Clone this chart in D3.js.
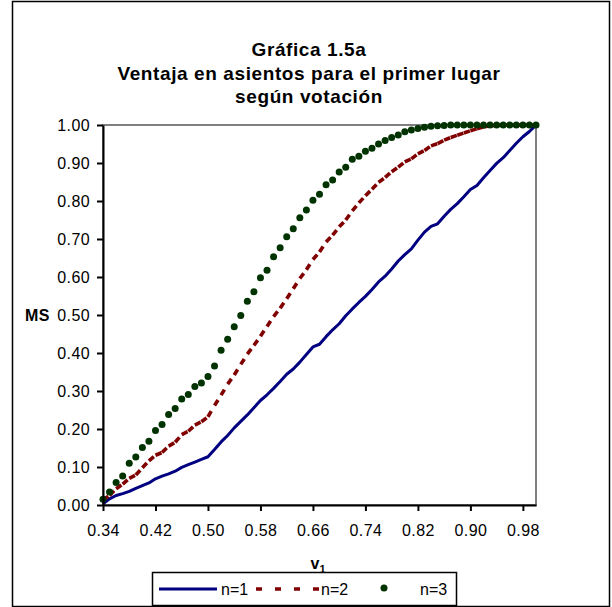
<!DOCTYPE html>
<html><head><meta charset="utf-8">
<script src="https://cdn.jsdelivr.net/npm/d3@7"></script>
<style>body{margin:0;background:#fff}svg{display:block;font-family:Arial,"Liberation Sans",sans-serif}</style>
</head><body>
<svg id="c" width="612" height="607"></svg>
<script>
const v1 = [0.34,0.35,0.36,0.37,0.38,0.39,0.40,0.41,0.42,0.43,0.44,0.45,0.46,0.47,0.48,0.49,0.50,0.51,0.52,0.53,0.54,0.55,0.56,0.57,0.58,0.59,0.60,0.61,0.62,0.63,0.64,0.65,0.66,0.67,0.68,0.69,0.70,0.71,0.72,0.73,0.74,0.75,0.76,0.77,0.78,0.79,0.80,0.81,0.82,0.83,0.84,0.85,0.86,0.87,0.88,0.89,0.90,0.91,0.92,0.93,0.94,0.95,0.96,0.97,0.98,0.99,1.00];
const n1 = [0.003,0.016,0.025,0.030,0.036,0.044,0.051,0.058,0.069,0.076,0.082,0.089,0.099,0.106,0.113,0.120,0.127,0.146,0.166,0.183,0.203,0.220,0.237,0.256,0.275,0.290,0.307,0.325,0.344,0.358,0.376,0.396,0.416,0.423,0.443,0.461,0.477,0.498,0.516,0.533,0.549,0.567,0.587,0.602,0.621,0.642,0.659,0.674,0.697,0.718,0.733,0.740,0.760,0.778,0.793,0.811,0.830,0.841,0.861,0.880,0.899,0.914,0.933,0.952,0.969,0.983,1.000];
const n2 = [0.013,0.025,0.043,0.055,0.070,0.079,0.098,0.116,0.131,0.138,0.155,0.165,0.185,0.194,0.210,0.219,0.232,0.262,0.289,0.318,0.342,0.370,0.397,0.420,0.444,0.470,0.496,0.518,0.543,0.569,0.596,0.619,0.646,0.666,0.692,0.710,0.732,0.750,0.774,0.795,0.814,0.831,0.849,0.862,0.877,0.889,0.903,0.911,0.924,0.933,0.945,0.951,0.960,0.967,0.973,0.979,0.985,0.990,0.995,0.998,0.999,1,1,1,1,1,1];
const n3 = [0.015,0.034,0.059,0.076,0.110,0.126,0.151,0.168,0.196,0.212,0.238,0.254,0.279,0.291,0.312,0.321,0.338,0.366,0.407,0.436,0.469,0.499,0.536,0.561,0.598,0.618,0.653,0.677,0.706,0.727,0.756,0.776,0.802,0.818,0.843,0.855,0.876,0.889,0.910,0.918,0.931,0.939,0.950,0.959,0.967,0.974,0.982,0.987,0.991,0.994,0.997,0.998,0.999,1,1,1,1,1,1,1,1,1,1,1,1,1,1];
const xTicks = [0.34,0.42,0.50,0.58,0.66,0.74,0.82,0.90,0.98];
const yTicks = [0,0.1,0.2,0.3,0.4,0.5,0.6,0.7,0.8,0.9,1.0];
const seriesNames = ["n=1","n=2","n=3"];
const titleLines = ["Gráfica 1.5a","Ventaja en asientos para el primer lugar","según votación"];
const yTitle = "MS";
const xTitle = "v";
const xTitleSub = "1";

const svg = d3.select("#c");
const x = d3.scaleLinear().domain([0.34,1.00]).range([103,536]);
const y = d3.scaleLinear().domain([0,1]).range([505,125]);
const blue="#000080", red="#800000", green="#003300";

// outer border
svg.append("rect").attr("x",12.5).attr("y",1.5).attr("width",597).attr("height",605)
  .attr("fill","#fff").attr("stroke","#000").attr("stroke-width",1.5);

// title
svg.append("g").selectAll("text").data(titleLines).join("text")
  .attr("x",309).attr("y",(d,i)=>56+i*23.5).attr("text-anchor","middle")
  .attr("font-size",19).attr("font-weight","bold").attr("letter-spacing",0.6).text(d=>d);

// plot area
svg.append("rect").attr("x",x(0.34)).attr("y",y(1)).attr("width",x(1)-x(0.34)).attr("height",y(0)-y(1))
  .attr("fill","#fff").attr("stroke","#808080").attr("stroke-width",2);

const pts = s => v1.map((v,i)=>[x(v),y(s[i])]);
const line = d3.line();

// n=1
svg.append("path").attr("d",line(pts(n1))).attr("fill","none").attr("stroke",blue)
  .attr("stroke-width",3).attr("stroke-linejoin","round");

// n=2 dashed, pattern restarting on each segment
const p2 = pts(n2);
svg.append("g").selectAll("path").data(d3.pairs(p2)).join("path")
  .attr("d",d=>line(d)).attr("fill","none").attr("stroke",red)
  .attr("stroke-width",3.6).attr("stroke-dasharray","6.5,13");

// n=3 dots
svg.append("g").selectAll("circle").data(pts(n3)).join("circle")
  .attr("cx",d=>d[0]).attr("cy",d=>d[1]).attr("r",3.5).attr("fill",green);

// axes
const ya = svg.append("g").attr("transform",`translate(${x(0.34)},0)`)
  .call(d3.axisLeft(y).tickValues(yTicks).tickFormat(d3.format(".2f")).tickSize(6).tickSizeOuter(0).tickPadding(7));
const xa = svg.append("g").attr("transform",`translate(0,${y(0)})`)
  .call(d3.axisBottom(x).tickValues(xTicks).tickFormat(d3.format(".2f")).tickSize(6).tickSizeOuter(0));
[ya,xa].forEach(a=>{
  a.select(".domain").attr("stroke","#000").attr("stroke-width",2);
  a.selectAll(".tick line").attr("stroke","#000").attr("stroke-width",2);
  a.selectAll("text").attr("font-size",16).attr("fill","#000").attr("font-family",null).attr("letter-spacing",0.4);
});
xa.selectAll("text").attr("y",31).attr("dy",0);

// axis titles
svg.append("text").attr("x",50).attr("y",y(0.5)).attr("dy","0.35em").attr("text-anchor","end")
  .attr("font-size",16).attr("font-weight","bold").attr("letter-spacing",0.5).text(yTitle);
const xt = svg.append("text").attr("x",318).attr("y",569).attr("text-anchor","middle")
  .attr("font-size",16).attr("font-weight","bold");
xt.append("tspan").text(xTitle);
xt.append("tspan").attr("font-size",11).attr("dy",4).text(xTitleSub);

// legend
const lg = svg.append("g");
lg.append("rect").attr("x",152.5).attr("y",572.5).attr("width",304).attr("height",33)
  .attr("fill","#fff").attr("stroke","#000").attr("stroke-width",1.5);
const ly = 589;
lg.append("line").attr("x1",159).attr("x2",217).attr("y1",ly).attr("y2",ly).attr("stroke",blue).attr("stroke-width",3);
lg.append("line").attr("x1",256).attr("x2",319).attr("y1",ly).attr("y2",ly).attr("stroke",red).attr("stroke-width",3.6).attr("stroke-dasharray","6,13");
lg.append("circle").attr("cx",384).attr("cy",ly-1).attr("r",3.5).attr("fill",green);
lg.selectAll("text.l").data(seriesNames).join("text").attr("class","l")
  .attr("x",(d,i)=>[221,321,420][i]).attr("y",ly+6).attr("font-size",16).text(d=>d);
</script>
</body></html>
